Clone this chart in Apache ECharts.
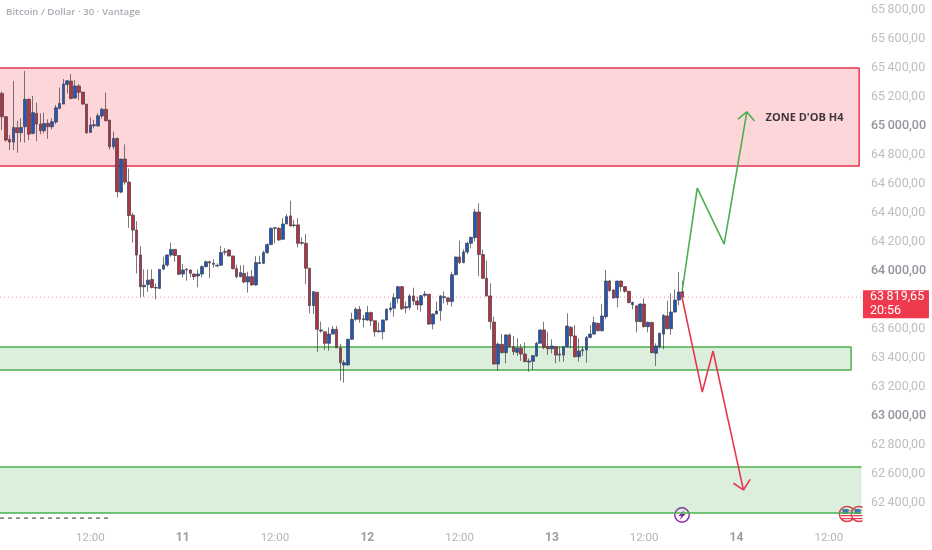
<!DOCTYPE html>
<html><head><meta charset="utf-8">
<style>html,body{margin:0;padding:0;background:#fff}#c{width:932px;height:550px}</style>
<script src="https://cdn.jsdelivr.net/npm/echarts@6/dist/echarts.min.js"></script>
</head><body><div id="c"></div>
<script>
const opens=[65225,65064,64908,64889,64988,64954,64995,65184,64949,65087,65013,64967,65018,64995,65027,65122,65151,65287,65310,65193,65276,65234,65151,64956,65002,65000,65069,65115,65041,64857,64914,64544,64772,64613,64385,64282,64110,63891,63907,63942,63886,63880,64013,64041,64110,64149,64107,
63979,64012,64007,63979,63966,63979,64030,64064,64046,64035,64039,64129,64145,64104,64016,63961,63984,63924,63961,63904,64051,64053,64127,64182,64294,64294,64219,64324,64380,64313,64318,64191,64191,64019,63761,63853,63586,63581,63501,63565,63598,63469,63352,63352,
63529,63667,63736,63664,63662,63713,63657,63581,63581,63662,63733,63743,63811,63892,63745,63749,63828,63793,63766,63832,63839,63634,63703,63726,63816,63814,63789,63975,64097,64058,64131,64191,64230,64407,64113,63950,63828,63648,63358,63494,63437,63559,
63478,63439,63467,63427,63372,63377,63414,63501,63593,63478,63464,63478,63420,63420,63478,63611,63552,63409,63450,63455,63542,63565,63639,63588,63685,63931,63869,63816,63931,63892,63860,63768,63759,63651,63772,63616,63644,63432,63478,63565,63690,63602,63717,63800,63858];
const closes=[65064,64903,64889,64990,64954,64990,65184,64944,65092,65013,64967,65018,64995,65030,65126,65156,65289,65312,65190,65276,65232,65151,64954,65007,65009,65071,65115,65036,64857,64914,64547,64772,64613,64383,64282,64110,63891,63902,63937,63886,63882,64011,64041,64110,64149,64107,63978,
64007,64007,63984,63961,63979,64030,64064,64055,64053,64039,64127,64134,64104,64016,63961,63989,63924,63961,63904,64058,64058,64127,64182,64294,64299,64214,64324,64375,64311,64318,64191,64196,64019,63761,63858,63598,63593,63501,63565,63598,63471,63368,63368,63529,
63667,63736,63667,63671,63713,63657,63581,63588,63662,63736,63745,63816,63892,63740,63754,63828,63793,63766,63830,63841,63634,63703,63724,63828,63823,63789,63975,64097,64058,64131,64191,64232,64407,64113,63950,63828,63651,63358,63496,63437,63559,63478,
63443,63467,63427,63375,63379,63416,63501,63593,63473,63464,63483,63420,63427,63478,63621,63552,63409,63448,63457,63542,63565,63644,63588,63690,63931,63864,63814,63931,63892,63860,63782,63782,63651,63772,63616,63646,63437,63483,63570,63694,63602,63717,63800,63855,63819.65];
const lows=[64972,64892,64834,64834,64816,64889,64885,64903,64944,64896,64944,64949,64912,64977,65013,65115,65151,65225,65184,65188,65179,65145,64944,64954,64984,64995,65053,65032,64839,64839,64507,64535,64595,64298,64195,63983,63822,63822,63857,63880,63804,63875,64006,64029,64098,64064,63971,
63956,63933,63956,63938,63887,63956,64025,63950,64025,64025,64035,64110,64099,64012,63950,63956,63915,63851,63899,63899,64048,64048,64117,64179,64191,64209,64214,64324,64306,64301,64163,64180,63910,63708,63703,63443,63575,63455,63450,63565,63467,63243,63230,63347,
63524,63657,63644,63611,63657,63621,63547,63575,63529,63657,63713,63685,63777,63731,63708,63731,63766,63731,63720,63823,63627,63598,63703,63657,63777,63766,63754,63970,64048,64053,64117,64157,64203,63966,63943,63823,63598,63354,63312,63432,63363,63473,
63420,63414,63381,63372,63305,63317,63409,63501,63460,63420,63432,63363,63375,63375,63473,63466,63404,63375,63414,63368,63536,63559,63584,63584,63667,63858,63809,63749,63858,63851,63777,63736,63577,63646,63611,63577,63432,63345,63466,63460,63598,63559,63713,63765,63800];
const highs=[65237,65069,64937,65310,65036,65053,65379,65190,65207,65161,65087,65092,65046,65053,65145,65266,65324,65317,65358,65317,65289,65234,65151,65059,65041,65087,65126,65230,65041,64961,64921,64772,64873,64707,64402,64344,64172,64011,64011,64011,63914,64011,64098,64114,64195,64149,64107,
64048,64019,64012,63984,64012,64041,64071,64071,64081,64053,64173,64157,64150,64104,64044,64039,64041,63995,64007,64104,64104,64140,64191,64301,64301,64301,64364,64393,64485,64352,64364,64232,64255,64019,63858,63853,63651,63581,63611,63621,63621,63496,63386,63533,
63713,63749,63759,63697,63759,63720,63657,63644,63667,63743,63782,63846,63897,63897,63789,63841,63885,63823,63835,63862,63839,63708,63789,63835,63858,63818,63995,64099,64209,64150,64203,64237,64428,64467,64150,64071,63915,63685,63506,63565,63563,63570,
63552,63536,63496,63506,63397,63421,63512,63598,63650,63581,63529,63483,63478,63483,63708,63621,63627,63536,63478,63552,63627,63685,63644,63772,64007,63938,63874,63933,63933,63897,63864,63789,63766,63777,63811,63651,63651,63501,63575,63703,63795,63846,63874,63993,63933];

const slotCount=224;
const tickIndices=[23,47,71,95,119,143,167,191,215];
const tickLabels=['12:00','11','12:00','12','12:00','13','12:00','14','12:00'];
const dayLabels=['11','12','13','14'];
const strongPrices=[65000,64000,63000];
const lastPrice=63819.65;
const countdown='20:56';
const annotationText="ZONE D'OB H4";
const annotationPoint=[208.7,65055];
const zoneRed=[[-0.5,65400],[222.9,64724]];
const zoneGreenNear=[[-0.5,63476],[220.8,63317]];
const zoneGreenFar=[[-0.5,62648],[223.5,62331]];
const greenPath=[[176.9,63869],[180.8,64572],[187.8,64186],[193.7,65098]];
const greenHead=[[191.35,65048],[193.7,65098],[195.65,65034]];
const redPath=[[176.6,63848],[182.1,63165],[184.9,63448],[192.8,62490]];
const redHead=[[190.2,62536],[192.8,62490],[194.55,62563]];
const dashedPath=[[-0.5,62296],[28,62296]];

const FONT='Roboto, "Noto Sans", sans-serif';
const GREEN='#4caf50', RED='#e8364f';
const fmtPrice=v=>{const s=v.toFixed(2).replace('.',',');return s.slice(0,2)+'\u2009'+s.slice(2);};
const lineSeries=(data,color,width,extra)=>Object.assign({type:'line',xAxisIndex:1,yAxisIndex:0,data,showSymbol:false,symbol:'none',silent:true,animation:false,z:5,
  lineStyle:{color,width}},extra||{});
const zoneFill=(zone,fill)=>({type:'line',xAxisIndex:1,yAxisIndex:0,data:[],silent:true,animation:false,z:1,
  markArea:{silent:true,animation:false,z:1,itemStyle:{color:fill,borderWidth:0},
    data:[[{xAxis:zone[0][0],yAxis:zone[0][1]},{xAxis:zone[1][0],yAxis:zone[1][1]}]]}});
const zoneEdge=(zone,color,closed)=>{
  const [x0,top]=zone[0],[x1,bot]=zone[1];
  if(closed) return [lineSeries([[x0,top],[x1,top],[x1,bot],[x0,bot]],color,1.5,{z:2})];
  return [lineSeries([[x0,top],[x1,top]],color,1.5,{z:2}),lineSeries([[x0,bot],[x1,bot]],color,1.5,{z:2})];
};

const chart=echarts.init(document.getElementById('c'),null,{renderer:'canvas'});
chart.setOption({
  animation:false,backgroundColor:'#fff',
  title:{text:'Bitcoin / Dollar \u00b7 30 \u00b7 Vantage',left:6,top:7,padding:0,
    textStyle:{fontFamily:'"Open Sans",sans-serif',fontSize:9.7,fontWeight:600,color:'#a9acb3'}},
  grid:{left:-0.925,top:10,width:862.4,height:522,containLabel:false},
  xAxis:[{type:'category',data:Array.from({length:slotCount},(_,i)=>String(i)),boundaryGap:true,
      axisLine:{show:false},axisTick:{show:false},splitLine:{show:false},
      axisLabel:{margin:0,interval:i=>tickIndices.includes(i),fontFamily:FONT,fontSize:11.5,color:'#b2b5bb',
        formatter:(v,i)=>{const k=tickIndices.indexOf(+v);if(k<0)return '';const t=tickLabels[k];
          return dayLabels.includes(t)?'{d|'+t+'}':t;},
        rich:{d:{fontFamily:FONT,fontSize:12,fontWeight:700,color:'#9a9da4'}}}},
    {type:'value',show:false,min:-0.5,max:slotCount-0.5,position:'bottom'}],
  yAxis:[{type:'value',position:'right',min:62200,max:65800,interval:200,scale:true,
      axisLine:{show:false},axisTick:{show:false},splitLine:{show:false},
      axisLabel:{margin:9.5,align:'left',fontFamily:FONT,fontSize:12.5,color:'#bcbec3',
        formatter:v=>{if(v<=62200||v===63800)return '';const t=fmtPrice(v);return strongPrices.includes(v)?'{s|'+t+'}':t;},
        rich:{s:{fontFamily:FONT,fontSize:12.5,color:'#92959c',fontWeight:500}}}}],
  series:[
    zoneFill(zoneRed,'rgba(245,70,85,0.22)'),
    zoneFill(zoneGreenNear,'rgba(76,175,80,0.2)'),
    zoneFill(zoneGreenFar,'rgba(76,175,80,0.2)'),
    ...zoneEdge(zoneRed,RED,true),
    ...zoneEdge(zoneGreenNear,GREEN,true),
    ...zoneEdge(zoneGreenFar,GREEN,false),
    lineSeries([[-0.5,lastPrice],[slotCount-0.5,lastPrice]],'#ee8494',1,{z:2,lineStyle:{color:'#ee8494',width:1,type:[1,3]}}),
    {type:'candlestick',xAxisIndex:0,yAxisIndex:0,barWidth:3.2,z:3,silent:true,animation:false,
      data:opens.map((o,i)=>[o,closes[i],lows[i],highs[i]]),
      itemStyle:{color:'#2456b8',color0:'#ad3544',borderColor:'#3c3f4e',borderColor0:'#4a3a40',borderWidth:0.7},
      markLine:{silent:true,animation:false,symbol:'none',z:2,
        lineStyle:{width:0,color:'rgba(0,0,0,0)'},
        label:{show:true,position:'end',distance:0,offset:[1.5,7],formatter:fmtPrice(lastPrice)+'\n'+countdown,align:'left',verticalAlign:'middle',
          backgroundColor:'#ef3a4e',color:'#fff',fontFamily:FONT,fontSize:12.5,lineHeight:14,padding:[0,6,0,7],width:53},
        data:[{yAxis:lastPrice}]}},
    lineSeries(greenPath,GREEN,1.6),
    lineSeries(greenHead,GREEN,1.6),
    lineSeries(redPath,RED,1.6),
    lineSeries(redHead,RED,1.6),
    lineSeries(dashedPath,'#333',1,{lineStyle:{color:'#333',width:1,type:[4,4]}}),
    {type:'scatter',xAxisIndex:1,yAxisIndex:0,symbolSize:0,data:[annotationPoint],silent:true,animation:false,z:6,
      label:{show:true,position:'inside',formatter:annotationText,color:'#0c0c10',fontFamily:'"Open Sans",sans-serif',fontSize:11,fontWeight:700}}
  ],
  graphic:{elements:[
    {type:'group',z:20,x:682,y:515,children:[
      {type:'circle',shape:{cx:0,cy:0,r:7.2},style:{fill:'#fff',stroke:'#8e24aa',lineWidth:1.4}},
      {type:'polygon',shape:{points:[[2.4,-5],[-3.6,1],[-0.6,1],[-2.4,5],[3.6,-1],[0.6,-1]]},style:{fill:'#8e24aa'}}]},
    ...[847,859].map(cx=>({type:'group',z:20,x:cx,y:514,children:[
      {type:'circle',shape:{cx:0,cy:0,r:7.6},style:{fill:'#fff',stroke:'#e5394f',lineWidth:1.5}},
      {type:'rect',shape:{x:-5,y:-4,width:10,height:1.2},style:{fill:'#e98a96'}},
      {type:'rect',shape:{x:-6.3,y:1,width:12.6,height:1.3},style:{fill:'#e5394f'}},
      {type:'rect',shape:{x:-5,y:4,width:10,height:1.2},style:{fill:'#e5394f'}},
      {type:'rect',shape:{x:-4.5,y:-5,width:6,height:5},style:{fill:'#3a6fc0'}}]})),
    {type:'rect',z:21,shape:{x:862.5,y:504,width:6,height:20},style:{fill:'#fff'}}
  ]}
});
</script></body></html>
